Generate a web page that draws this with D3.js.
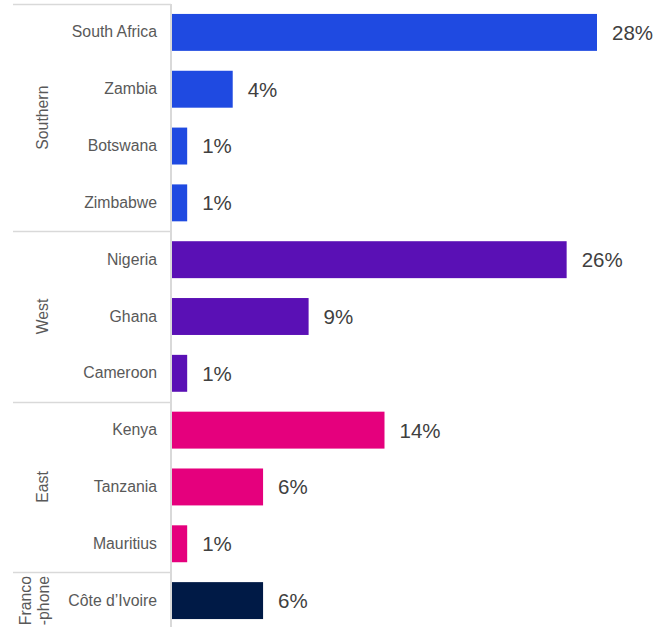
<!DOCTYPE html>
<html>
<head>
<meta charset="utf-8">
<script src="https://cdn.jsdelivr.net/npm/d3@7"></script>
<style>
  html, body { margin: 0; padding: 0; background: #ffffff; }
  svg { display: block; font-family: "Liberation Sans", Arial, sans-serif; }
</style>
</head>
<body>
<svg id="chart" width="671" height="627"></svg>
<script>
// Share by country, grouped by region
const countries = ["South Africa", "Zambia", "Botswana", "Zimbabwe",
                   "Nigeria", "Ghana", "Cameroon",
                   "Kenya", "Tanzania", "Mauritius",
                   "Côte d’Ivoire"];
const values = [28, 4, 1, 1, 26, 9, 1, 14, 6, 1, 6];
const regionOf = ["Southern", "Southern", "Southern", "Southern",
                  "West", "West", "West",
                  "East", "East", "East",
                  "Francophone"];
const regions = ["Southern", "West", "East", "Francophone"];
const regionLabels = [["Southern"], ["West"], ["East"], ["Franco", "-phone"]];
const regionColors = ["#1f4ae1", "#5a10b5", "#e5007d", "#001a46"];

const svg = d3.select("#chart");
const axisX = 171;

const y = d3.scaleBand()
  .domain(countries)
  .range([4, 629])
  .paddingInner(0.35)
  .paddingOuter(0.175);

const x = d3.scaleLinear()
  .domain([0, 28])
  .range([axisX + 1, 597]);

const color = d3.scaleOrdinal().domain(regions).range(regionColors);

// Bars
svg.append("g")
  .selectAll("rect")
  .data(countries)
  .join("rect")
  .attr("x", x(0))
  .attr("y", d => y(d))
  .attr("width", (d, i) => x(values[i]) - x(0))
  .attr("height", y.bandwidth())
  .attr("fill", (d, i) => color(regionOf[i]));

// Value labels
svg.append("g")
  .selectAll("text")
  .data(countries)
  .join("text")
  .attr("x", (d, i) => x(values[i]) + 15)
  .attr("y", d => y(d) + y.bandwidth() / 2)
  .attr("dy", "0.36em")
  .attr("font-size", 20.5)
  .attr("fill", "#404040")
  .text((d, i) => values[i] + "%");

// Category axis (left)
const yAxis = d3.axisLeft(y).tickSize(0).tickPadding(14);
const gAxis = svg.append("g")
  .attr("transform", `translate(${axisX},0)`)
  .call(yAxis);
gAxis.select(".domain").remove();
gAxis.selectAll("text")
  .attr("font-size", 15.8)
  .attr("font-family", "Liberation Sans, Arial, sans-serif")
  .attr("fill", "#595959");

// Group boundaries
const step = y.step();
const groupBounds = regions.map(r => {
  const members = countries.filter((c, i) => regionOf[i] === r);
  const first = y(members[0]);
  const last = y(members[members.length - 1]) + y.bandwidth();
  return { r, top: first - (step - y.bandwidth()) / 2, bottom: last + (step - y.bandwidth()) / 2,
           mid: (first + last) / 2 };
});

const lineColor = "#d9d9d9";
svg.append("g")
  .selectAll("line")
  .data(groupBounds)
  .join("line")
  .attr("x1", 13)
  .attr("x2", axisX)
  .attr("y1", d => Math.round(d.top) + 0.5)
  .attr("y2", d => Math.round(d.top) + 0.5)
  .attr("stroke", lineColor)
  .attr("stroke-width", 1.5);

// Vertical axis line
svg.append("line")
  .attr("x1", axisX).attr("x2", axisX)
  .attr("y1", 4).attr("y2", 627)
  .attr("stroke", lineColor)
  .attr("stroke-width", 2);

// Region labels (rotated)
const regionG = svg.append("g")
  .selectAll("g")
  .data(groupBounds)
  .join("g")
  .attr("transform", (d, i) => {
    const cx = regionLabels[i].length > 1 ? 34 : 42;
    return `translate(${cx},${d.mid}) rotate(-90)`;
  });

regionG.each(function(d, i) {
  const lines = regionLabels[i];
  const lh = 18;
  d3.select(this).selectAll("text")
    .data(lines)
    .join("text")
    .attr("text-anchor", "middle")
    .attr("x", 0)
    .attr("y", (t, j) => (j - (lines.length - 1) / 2) * lh)
    .attr("dy", "0.36em")
    .attr("font-size", 15.8)
    .attr("fill", "#595959")
    .text(t => t);
});
</script>
</body>
</html>
